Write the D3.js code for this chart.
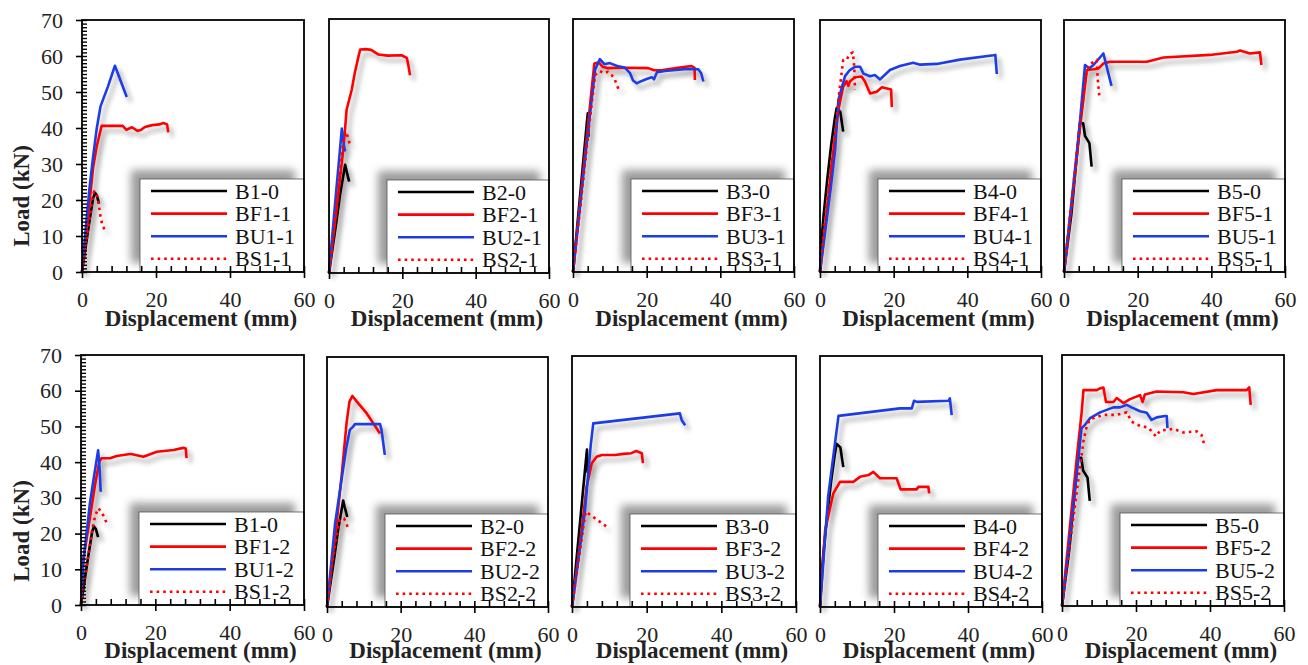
<!DOCTYPE html>
<html><head><meta charset="utf-8">
<script src="https://cdn.jsdelivr.net/npm/d3@7"></script>
<style>
html,body{margin:0;padding:0;background:#fff;}
svg{display:block;font-family:"Liberation Serif","Times New Roman",serif;}
</style></head>
<body><svg id="c" width="1308" height="665"></svg>
<script>
// ---------- data (displacement mm, load kN) ----------
const b1_0 = [[0,0],[1,7],[2,14],[3,20.5],[3.5,22],[4,21.3],[4.6,19]];
const bf1_1 = [[0,0],[1,9],[2,19],[3,29],[4,35],[5.3,40.6],[8,40.6],[11,40.6],[12,39.5],[13.5,40.2],[15,39.2],[16,39.5],[17,40.3],[19,40.8],[21,41],[22,41.4],[23,41],[23.3,38.8]];
const bu1_1 = [[0,0],[1,12],[2,23],[3,32],[4,40],[5,46],[7,51.5],[8.9,57.3],[12.1,48.6]];
const bs1_1 = [[0,0],[1,7.5],[2,14.5],[3,21.5],[3.3,22.4],[4,21.5],[4.5,19],[5,15.5],[5.5,13],[6.5,11]];

const b2_0 = [[0,0],[1,7],[2,14],[3,21.5],[4.4,29.8],[4.8,28],[5.5,25.2]];
const bf2_1 = [[0,0],[2,17],[4,35],[4.8,45],[6.2,50.5],[7,55],[8,59.5],[8.5,61.6],[10,61.7],[11.5,61.5],[13.5,60.2],[16,59.9],[19.8,60],[21.2,59.3],[21.6,57.5],[22.1,54.5]];
const bu2_1 = [[0,0],[1,11.5],[2,23],[3,34],[3.5,39.8],[3.8,37.5],[4.1,35],[4.4,33.5]];
const bs2_1 = [[0,0],[2,19],[4,37],[4.6,38.9],[5.3,37],[5.7,35.3]];

const b3_0 = [[0,0],[1,11],[2,22],[3,33],[4,43.9],[4.2,37.4]];
const bf3_1 = [[0,0],[2,20],[4,40],[5.8,57.7],[7,58],[8,56.8],[9.5,56.4],[14,56.5],[20.4,56.4],[22,55.8],[24.4,55.9],[28,56.4],[30,56.7],[32.2,57],[33,56.5],[33.1,53.1]];
const bu3_1 = [[0,0],[2,19],[4,38],[6,56],[7.3,58.9],[8.5,57.5],[10,57.8],[12,57],[14,56.6],[15.5,55],[16.3,53],[17.3,52.2],[18.5,52.8],[20,53.4],[21.4,53.9],[22,53.3],[22.8,55.3],[25,55.6],[28,55.9],[31,56.2],[34,56.1],[34.8,55],[35.4,52.7]];
const bs3_1 = [[0,0],[2,18],[4,37],[6,54.5],[7.3,55.6],[8.3,55],[9.5,55.4],[10.5,54.5],[11.4,53.1],[12.5,50.2]];

const b4_0 = [[0,0],[0.5,10],[1,16],[2,26],[3,35],[4,42.5],[4.5,45.5],[5.5,44.5],[6.3,39]];
const bf4_1 = [[0,0],[1,9],[2,18],[3,28],[4,37],[5,45],[6.3,51.5],[7.2,53],[7.7,51.7],[8.1,52.9],[9.5,54.1],[11.3,54.3],[12.2,52.9],[13.6,49.6],[15.4,50.1],[16.8,51.3],[19.3,50.7],[19.5,45.8]];
const bu4_1 = [[0,0],[1,8],[2,16],[3,24],[4.1,33.9],[5,47.8],[6.8,54.4],[8.1,56.1],[9.5,57],[10.9,57],[11.8,55.1],[13.6,54.4],[14.9,54.7],[16.3,53.5],[19,56.1],[21.7,57.2],[25.3,58.1],[27.2,57.6],[31.7,57.8],[38,59],[47.1,60.2],[47.6,60.3],[48,55]];
const bs4_1 = [[0,0],[1,11],[2,21],[4,37],[5,48],[6.3,58.9],[7.2,58.9],[8.1,60.6],[8.9,61],[9.3,57],[9.5,50.6]];

const b5_0 = [[0,0],[2,16],[4.3,41.3],[5.2,41.3],[5.7,37.8],[6.9,35.8],[7.5,29.3]];
const bf5_1 = [[0,0],[2,18],[4,37],[6.2,56.1],[8,56.3],[9.3,56.5],[10.7,57.9],[12.5,58.4],[22.5,58.4],[27,59.6],[39.6,60.3],[46.9,61.2],[47.8,61.5],[50.5,60.7],[53.2,61],[53.6,57.5]];
const bu5_1 = [[0,0],[2,19],[4,38],[5.7,57.5],[6.9,56.6],[8,57.5],[10.7,60.7],[12.9,51.7]];
const bs5_1 = [[0,0],[2,19],[4,38],[6,55],[7.1,57.8],[8.9,58.9],[9.1,54.3],[9.6,48.7]];

const bf1_2 = [[0,0],[0.6,12.6],[1.9,21],[3.7,33.1],[4.9,40.1],[5.5,41.1],[7.8,41.1],[9.6,41.7],[13.2,42.3],[13.5,42.3],[16.8,41.5],[20.4,42.9],[24.9,43.4],[27.5,44],[28.2,43.8],[28.4,41.1]];
const bu1_2 = [[0,0],[0.6,11.7],[2.4,28.5],[3.5,36],[4.6,43.3],[4.9,40],[5.3,31.7]];
const bs1_2 = [[0,0],[1,7],[2,14],[3,21],[3.5,23.5],[4,25.5],[4.7,27.1],[5.5,26],[6.3,24.5],[7.1,22.4]];

const bf2_2 = [[0,0],[2.6,23.4],[4,37],[5.3,51.4],[6.1,57.5],[6.9,59.1],[8.1,57.5],[10.8,54.2],[14.4,48.6]];
const bu2_2 = [[0,0],[2.2,23.4],[4,36],[5.3,44.9],[6.2,49.6],[7.1,50.5],[7.6,51.2],[14.4,51.2],[14.8,49.6],[15.7,42.6]];
const bs2_2 = [[0,0],[1.5,13],[3,22],[3.5,24.4],[4.6,24.8],[5.3,23.4],[5.8,21.6]];

const bf3_2 = [[0,0],[2.6,21.5],[3.9,33.5],[5.3,40.1],[6.6,41.9],[8,42.4],[11.6,42.4],[13.8,42.7],[15.9,42.9],[17.2,43.5],[18.7,42.9],[19,40.1]];
const bu3_2 = [[0,0],[3.5,27],[5,45],[5.7,51.2],[28.9,54],[29.4,52.1],[30.3,50.7]];
const bs3_2 = [[0,0],[3,22],[3.7,26.6],[6.2,24.7],[9.3,22.4]];

const bf4_2 = [[0,0],[1.4,21.5],[3.6,31.7],[5.4,34.9],[9,34.9],[10.8,36.3],[13.1,36.8],[14.4,37.7],[16.2,35.9],[20.7,35.9],[21.8,32.8],[26.1,32.8],[26.6,33.5],[29.3,33.5],[29.5,31.7]];
const bu4_2 = [[0,0],[2.2,30.8],[5,53.3],[21.6,55.4],[24.8,55.4],[25.4,57.5],[26.2,57.2],[34.7,57.5],[35.1,58.2],[35.6,53.5]];
const bs4_2 = [];

const bf5_2 = [[0,0],[4,41.4],[5.3,53.9],[5.8,60.2],[9.4,60.2],[10.3,60.7],[11.2,60.9],[11.9,56.9],[13.9,56.9],[14.8,58],[16.6,56.6],[18.4,57.7],[21.1,58.8],[21.8,56.9],[22.4,59],[25.6,59.8],[32.8,59.6],[35.5,59.1],[41.8,60.2],[49.9,60.2],[50.6,61],[51,56.1]];
const bu5_2 = [[0,0],[2,18],[4,37],[5.3,49.6],[6.2,50.5],[7.6,52.4],[10.3,54],[13.9,55.4],[15.7,55.4],[17.5,56.1],[18.8,55.4],[21.1,54.3],[22.9,53.9],[24.2,51.9],[25.6,52.6],[27.8,53],[28.3,53],[28.5,49.6]];
const bs5_2 = [[0,0],[2,16],[4,32],[5.8,46],[6.7,50.2],[7.6,52.1],[11.2,53.3],[14.8,53.3],[17.5,54],[18.8,51.4],[21.1,50.2],[23.3,49.8],[25.4,47.3],[26.5,48.9],[30.1,49.4],[32.8,48.4],[36.4,48.7],[37.7,47.7],[38.4,45.2]];

// labels
const legend1 = ["B1-0","BF1-1","BU1-1","BS1-1"];
const legend2 = ["B2-0","BF2-1","BU2-1","BS2-1"];
const legend3 = ["B3-0","BF3-1","BU3-1","BS3-1"];
const legend4 = ["B4-0","BF4-1","BU4-1","BS4-1"];
const legend5 = ["B5-0","BF5-1","BU5-1","BS5-1"];
const legend6 = ["B1-0","BF1-2","BU1-2","BS1-2"];
const legend7 = ["B2-0","BF2-2","BU2-2","BS2-2"];
const legend8 = ["B3-0","BF3-2","BU3-2","BS3-2"];
const legend9 = ["B4-0","BF4-2","BU4-2","BS4-2"];
const legend10 = ["B5-0","BF5-2","BU5-2","BS5-2"];
const xTicks = [0,20,40,60];
const yTicks = [0,10,20,30,40,50,60,70];
const xTitle = "Displacement (mm)";
const yTitle = "Load (kN)";

// ---------- layout ----------
const panels = [
  {l:82,  r:304,  t:20,  b:272, s:[b1_0,bf1_1,bu1_1,bs1_1], lg:legend1, yAxis:true, tt:54},
  {l:329, r:549,  t:19,  b:273, s:[b2_0,bf2_1,bu2_1,bs2_1], lg:legend2, tt:53},
  {l:573, r:794,  t:19,  b:272, s:[b3_0,bf3_1,bu3_1,bs3_1], lg:legend3, tt:54},
  {l:820, r:1041, t:20,  b:272, s:[b4_0,bf4_1,bu4_1,bs4_1], lg:legend4, tt:54},
  {l:1064,r:1285, t:20,  b:272, s:[b5_0,bf5_1,bu5_1,bs5_1], lg:legend5, tt:54},
  {l:81,  r:304,  t:355, b:605, s:[b1_0,bf1_2,bu1_2,bs1_2], lg:legend6, yAxis:true, tt:53},
  {l:327, r:548,  t:357, b:607, s:[b2_0,bf2_2,bu2_2,bs2_2], lg:legend7, tt:51},
  {l:572, r:796,  t:356, b:607, s:[b3_0,bf3_2,bu3_2,bs3_2], lg:legend8, tt:51},
  {l:820, r:1042, t:356, b:607, s:[b4_0,bf4_2,bu4_2,bs4_2], lg:legend9, tt:51},
  {l:1062,r:1284, t:355, b:606, s:[b5_0,bf5_2,bu5_2,bs5_2], lg:legend10, tt:52}
];
const colors = ["#000000","#ff0000","#1e3ce6","#ff0000"];
const dashes = [null,null,null,"2.6,4"];
const SERIF = "Liberation Serif, Times New Roman, serif";

const svg = d3.select("#c");
const defs = svg.append("defs");
const f = defs.append("filter").attr("id","ls").attr("x","-20%").attr("y","-20%").attr("width","160%").attr("height","160%");
f.append("feGaussianBlur").attr("in","SourceAlpha").attr("stdDeviation",2.5).attr("result","bl");
f.append("feOffset").attr("in","bl").attr("dx",4).attr("dy",5).attr("result","of");
const ct = f.append("feComponentTransfer").attr("in","of").attr("result","sh");
ct.append("feFuncA").attr("type","linear").attr("slope",0.35);
const fm = f.append("feMerge");
fm.append("feMergeNode").attr("in","sh");
fm.append("feMergeNode").attr("in","SourceGraphic");
const f2 = defs.append("filter").attr("id","lgs").attr("x","-30%").attr("y","-30%").attr("width","160%").attr("height","160%");
f2.append("feGaussianBlur").attr("stdDeviation",4);

panels.forEach((p,i)=>{
  const x = d3.scaleLinear().domain([0,60]).range([p.l,p.r]);
  const y = d3.scaleLinear().domain([0,70]).range([p.b,p.t]);
  const g = svg.append("g");
  g.append("rect").attr("x",p.l).attr("y",p.t).attr("width",p.r-p.l).attr("height",p.b-p.t)
    .attr("fill","#fff").attr("stroke","none");

  // curves
  const line = d3.line().x(d=>x(d[0])).y(d=>y(d[1]));
  const cg = g.append("g").attr("filter","url(#ls)");
  p.s.forEach((d,k)=>{
    if(!d.length) return;
    cg.append("path").attr("d",line(d)).attr("fill","none")
      .attr("stroke",colors[k]).attr("stroke-width",2.6)
      .attr("stroke-linejoin","round")
      .attr("stroke-dasharray",dashes[k]);
  });

  // legend
  const lx = p.l+58, ly = p.b-93, lw = p.r-lx, lh = p.b-ly;
  g.append("rect").attr("x",lx-9).attr("y",ly-9).attr("width",lw).attr("height",lh)
    .attr("fill","#7a7a7a").attr("opacity",0.75).attr("filter","url(#lgs)");
  g.append("rect").attr("x",lx).attr("y",ly).attr("width",lw).attr("height",lh)
    .attr("fill","#fff").attr("stroke","#555").attr("stroke-width",0.8);
  p.lg.forEach((t,k)=>{
    const yy = ly+12+k*22.6;
    g.append("line").attr("x1",lx+11).attr("x2",lx+87).attr("y1",yy).attr("y2",yy)
      .attr("stroke",colors[k]).attr("stroke-width",2.6).attr("stroke-dasharray",dashes[k]);
    g.append("text").attr("x",lx+95).attr("y",yy+7.5).attr("font-size",22)
      .attr("font-family",SERIF).attr("fill","#111").text(t);
  });

  // frame
  g.append("rect").attr("x",p.l).attr("y",p.t).attr("width",p.r-p.l).attr("height",p.b-p.t)
    .attr("fill","none").attr("stroke","#000").attr("stroke-width",1.8);

  // x axis
  const xMinor = d3.range(0,61,4);
  g.append("g").attr("transform",`translate(0,${p.b})`)
    .call(d3.axisBottom(x).tickValues(xMinor).tickSize(-6).tickFormat(""))
    .call(a=>{a.select(".domain").remove(); a.selectAll("line").attr("stroke","#000").attr("stroke-width",1.6);});
  g.append("g").attr("transform",`translate(0,${p.b})`)
    .call(d3.axisBottom(x).tickValues(xTicks).tickSize(6).tickFormat(d3.format("d")))
    .call(a=>{a.select(".domain").remove(); a.selectAll("line").attr("stroke","#000").attr("stroke-width",1.6);
      a.selectAll("text").attr("dy",null).attr("y",35).attr("font-size",22)
        .attr("font-family",SERIF).attr("fill","#222");});
  g.append("text").attr("x",(p.l+p.r)/2+8).attr("y",p.b+p.tt).attr("text-anchor","middle")
    .attr("font-family",SERIF).attr("font-size",23).attr("font-weight","bold").attr("fill","#222").text(xTitle);

  if(p.yAxis){
    g.append("g").attr("transform",`translate(${p.l},0)`)
      .call(d3.axisLeft(y).tickValues(d3.range(0,71,1)).tickSize(-5).tickFormat(""))
      .call(a=>{a.select(".domain").remove(); a.selectAll("line").attr("stroke","#000").attr("stroke-width",1.4);});
    g.append("g").attr("transform",`translate(${p.l},0)`)
      .call(d3.axisLeft(y).tickValues(yTicks).tickSize(6).tickPadding(13).tickFormat(d3.format("d")))
      .call(a=>{a.select(".domain").remove(); a.selectAll("line").attr("stroke","#000").attr("stroke-width",1.6);
        a.selectAll("text").attr("font-size",22).attr("font-family",SERIF).attr("fill","#222");});
    g.append("text").attr("transform",`translate(29,${p.t+176}) rotate(-90)`)
      .attr("text-anchor","middle").attr("font-family",SERIF).attr("font-size",23).attr("font-weight","bold").attr("fill","#222").text(yTitle);
  }
});
</script></body></html>
